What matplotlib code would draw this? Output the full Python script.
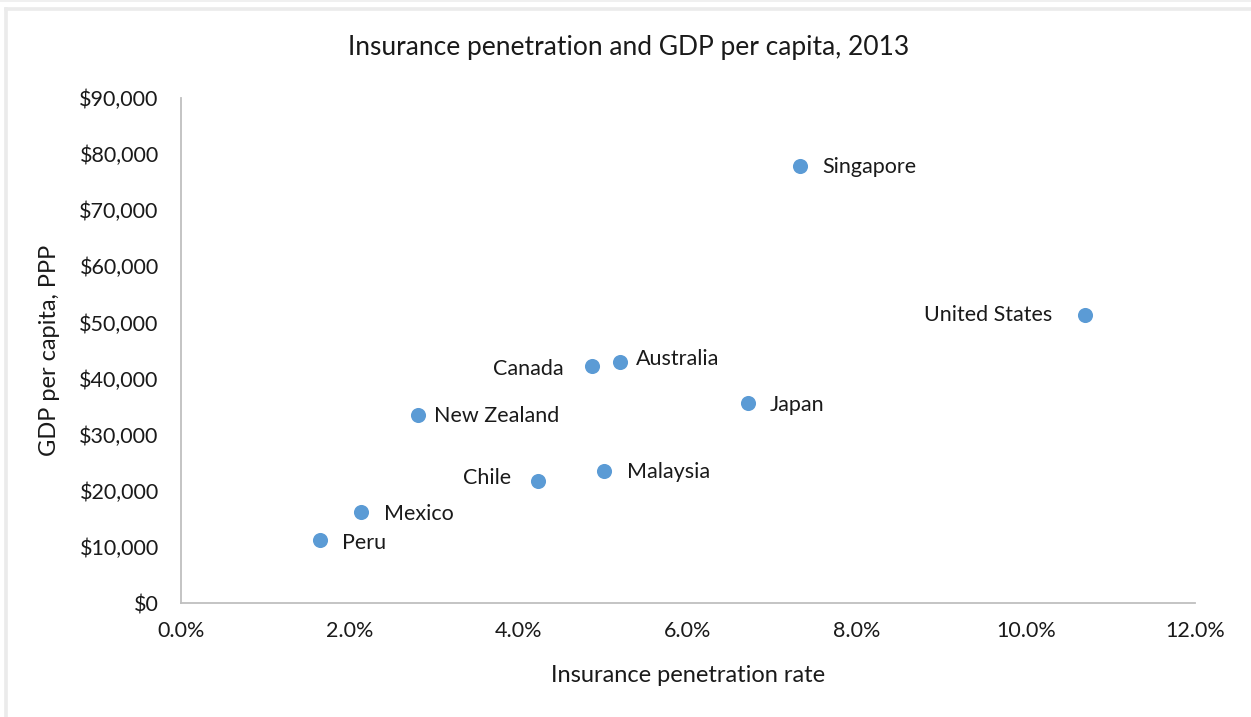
import matplotlib
matplotlib.use('Agg')
import matplotlib.pyplot as plt
from matplotlib.ticker import FuncFormatter
from matplotlib.lines import Line2D

plt.rcParams['font.family'] = ['Lato', 'DejaVu Sans']

countries = ['Singapore', 'United States', 'Canada', 'Australia', 'Japan',
             'New Zealand', 'Malaysia', 'Chile', 'Mexico', 'Peru']
penetration = [7.32, 10.70, 4.86, 5.19, 6.71, 2.81, 5.01, 4.22, 2.13, 1.65]  # %
gdp_pc = [77800, 51400, 42300, 43000, 35700, 33500, 23600, 21800, 16300, 11300]

# label placement (pixels from the dot centre, + = right / up)
label_dx = [23, -33, -28, 16, 22, 16, 23, -26, 23, 22]
label_dy = [-1, 0, -3, 3, -2, -1, -1, 3, -2, -3]

BLUE = '#5B9BD5'
GREY = '#BFBFBF'
TXT = '#1a1a1a'

W, H = 1251, 717
fig = plt.figure(figsize=(W / 100, H / 100), dpi=100)

# light frame around the chart area
fig.add_artist(Line2D([0, 1], [1 - 0.8 / H] * 2, transform=fig.transFigure,
                      color='#EEEEEE', linewidth=1.2))
fig.add_artist(Line2D([5.5 / W, 1], [1 - 8.5 / H] * 2, transform=fig.transFigure,
                      color='#EBEBEB', linewidth=2.6))
fig.add_artist(Line2D([5.5 / W] * 2, [0, 1 - 8.5 / H], transform=fig.transFigure,
                      color='#EBEBEB', linewidth=2.6))

ax = fig.add_axes([181 / W, 1 - 603 / H, (1195 - 181) / W, (603 - 98) / H])

ax.scatter(penetration, gdp_pc, s=118, color=BLUE, zorder=3, linewidths=0)

for name, x, y, dx, dy in zip(countries, penetration, gdp_pc, label_dx, label_dy):
    ax.annotate(name, (x, y), xytext=(dx * 0.72, dy * 0.72), textcoords='offset points',
                ha='left' if dx > 0 else 'right', va='center',
                fontsize=15.5, color=TXT)

ax.set_xlim(0, 12)
ax.set_ylim(0, 90000)
ax.set_xticks(range(0, 13, 2))
ax.set_yticks(range(0, 90001, 10000))
ax.xaxis.set_major_formatter(FuncFormatter(lambda v, p: f'{v:.1f}%'))
ax.yaxis.set_major_formatter(FuncFormatter(lambda v, p: f'${v:,.0f}'))
ax.tick_params(length=0, labelsize=15.5, colors=TXT)
ax.tick_params(axis='y', pad=16)
ax.tick_params(axis='x', pad=13)

for s in ['top', 'right']:
    ax.spines[s].set_visible(False)
for s in ['left', 'bottom']:
    ax.spines[s].set_color(GREY)
    ax.spines[s].set_linewidth(1.3)

fig.text(629 / W, 1 - 47 / H, 'Insurance penetration and GDP per capita, 2013',
         ha='center', va='center', fontsize=19, color=TXT)
ax.set_xlabel('Insurance penetration rate', fontsize=17, color=TXT, labelpad=17)
ax.set_ylabel('GDP per capita, PPP', fontsize=17, color=TXT, labelpad=14)

fig.savefig('out.png', dpi=100, facecolor='white')
